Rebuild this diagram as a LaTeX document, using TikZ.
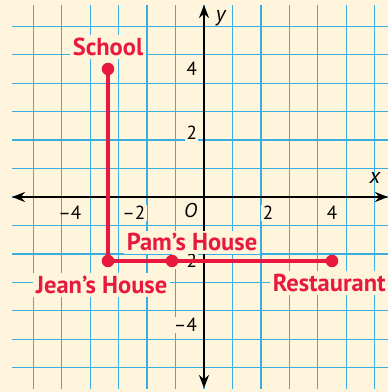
\documentclass[tikz,border=0pt]{standalone}
\usepackage{fontspec}
\setmainfont{PT Sans}
\usetikzlibrary{arrows.meta}
\definecolor{cream}{HTML}{FEF5DC}
\definecolor{gridblue}{HTML}{3AAEE0}
\definecolor{pathred}{HTML}{E8193C}
\begin{document}
\begin{tikzpicture}[x=32pt,y=32pt,
  tick/.style={fill=cream,inner sep=1.5pt,font=\fontsize{19}{19}\selectfont},
  place/.style={fill=cream,text=pathred,inner sep=3pt,font=\bfseries\fontsize{24.5}{24.5}\selectfont},
  axislabel/.style={inner sep=0pt,font=\itshape\fontsize{22}{22}\selectfont},
  dot/.style={circle,fill=pathred,inner sep=0pt,minimum size=12.5pt},
  axis/.style={line width=2.6pt,{Stealth[length=13pt,width=10pt]}-{Stealth[length=13pt,width=10pt]}},
  route/.style={pathred,line width=4pt}]
\fill[cream] (-6.375,-6.094) rectangle (5.75,6.156);
\useasboundingbox (-6.375,-6.094) rectangle (5.75,6.156);
\draw[gridblue,line width=1.3pt] (-6,-6) grid (5.75,6);
% axes
\coordinate (xl) at (-6,0);
\coordinate (xr) at (5.75,0);
\coordinate (yt) at (0,6);
\coordinate (yb) at (0,-5.97);
\draw[axis] (xl) -- (xr);
\draw[axis] (yb) -- (yt);
\node[axislabel] (xlab) at (5.34,0.6) {x};
\node[axislabel] (ylab) at (0.52,5.6) {y};
\node[axislabel,font=\itshape\fontsize{20}{20}\selectfont] (O) at (-0.42,-0.42) {O};
% tick labels
\node[tick] (xm4) at (-4,-0.5) {\llap{–}4};
\node[tick] (xm2) at (-2,-0.5) {\llap{–}2};
\node[tick] (xp2) at (2,-0.5) {2};
\node[tick] (xp4) at (4,-0.5) {4};
\node[tick,anchor=east] (yp4) at (-0.17,4) {4};
\node[tick,anchor=east] (yp2) at (-0.17,2) {2};
\node[tick,anchor=east] (ym2) at (-0.17,-2) {–2};
\node[tick,anchor=east] (ym4) at (-0.17,-4) {–4};
% place labels
\node[place] (schoollab) at (-3,4.69) {School};
\node[place] (jeanlab) at (-3.2,-2.75) {Jean’s House};
\node[place] (pamlab) at (-0.375,-1.42) {Pam’s House};
\node[place,anchor=west] (restlab) at (2.05,-2.69) {Restaurant};
% route
\node[dot] (school) at (-3,4) {};
\node[dot] (jean) at (-3,-2) {};
\node[dot] (pam) at (-1,-2) {};
\node[dot] (rest) at (4,-2) {};
\draw[route] (school.center) -- (jean.center) -- (pam.center) -- (rest.center);
\end{tikzpicture}
\end{document}
